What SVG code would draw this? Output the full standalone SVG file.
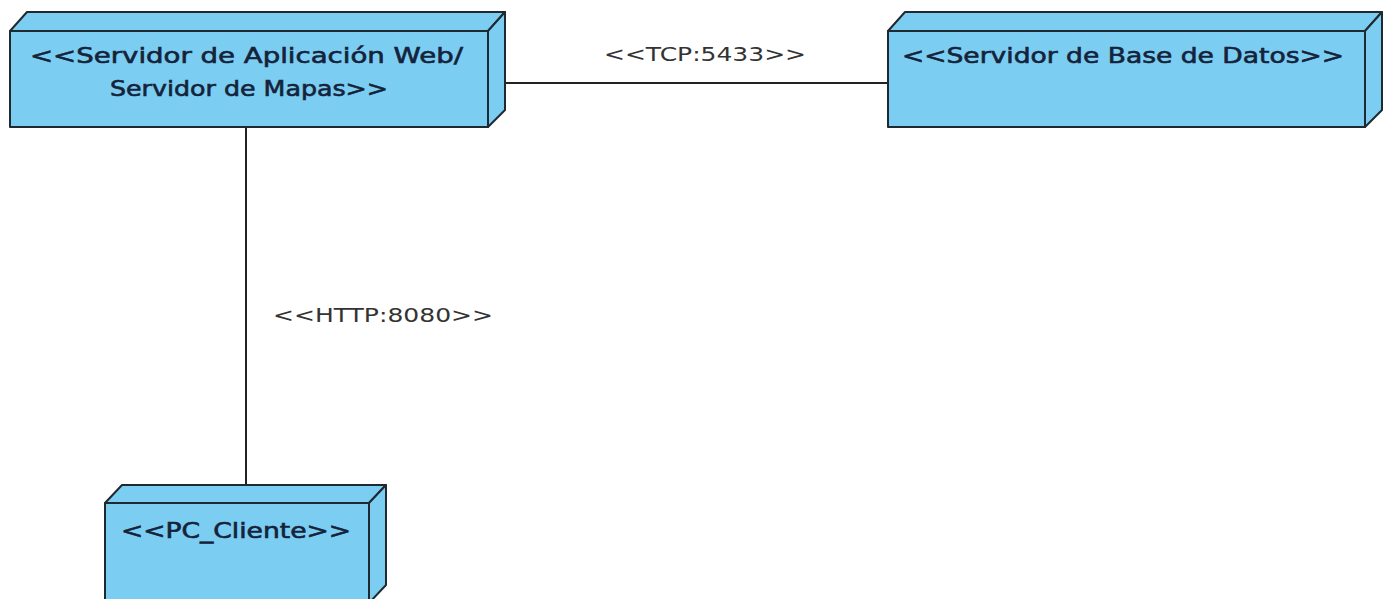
<svg xmlns="http://www.w3.org/2000/svg" width="1390" height="599" viewBox="0 0 1390 599">
<style>
.face{fill:#7ccdf2;stroke:#1e2a30;stroke-width:2;stroke-linejoin:round}
.nt{font-family:"DejaVu Sans",sans-serif;font-size:21px;fill:#14233a;stroke:#14233a;stroke-width:0.6}
.lt{font-family:"DejaVu Sans",sans-serif;font-size:20px;fill:#333}
.conn{stroke:#222;stroke-width:2;fill:none}
</style>
<rect width="1390" height="599" fill="#ffffff"/>
<g id="connectors">
<line class="conn" x1="506" y1="83" x2="888" y2="83"/>
<line class="conn" x1="246" y1="127" x2="246" y2="485"/>
<text class="lt" x="705" y="61" text-anchor="middle" textLength="202" lengthAdjust="spacingAndGlyphs">&lt;&lt;TCP:5433&gt;&gt;</text>
<text class="lt" x="383" y="322" text-anchor="middle" textLength="220" lengthAdjust="spacingAndGlyphs">&lt;&lt;HTTP:8080&gt;&gt;</text>
</g>
<g id="node-app">
<polygon class="face" points="10,31 27,12 505,12 488,31"/>
<polygon class="face" points="488,31 505,12 505,110 488,127"/>
<rect class="face" x="10" y="31" width="478" height="96"/>
<text class="nt" x="30" y="63" textLength="433" lengthAdjust="spacingAndGlyphs">&lt;&lt;Servidor de Aplicación Web/</text>
<text class="nt" x="249" y="96" text-anchor="middle" textLength="278" lengthAdjust="spacingAndGlyphs">Servidor de Mapas&gt;&gt;</text>
</g>
<g id="node-db">
<polygon class="face" points="888,31 905,12 1382,12 1365,31"/>
<polygon class="face" points="1365,31 1382,12 1382,110 1365,127"/>
<rect class="face" x="888" y="31" width="477" height="96"/>
<text class="nt" x="902" y="63" textLength="442" lengthAdjust="spacingAndGlyphs">&lt;&lt;Servidor de Base de Datos&gt;&gt;</text>
</g>
<g id="node-pc">
<polygon class="face" points="105,503 122,485 386,485 369,503"/>
<polygon class="face" points="369,503 386,485 386,585 369,603"/>
<rect class="face" x="105" y="503" width="264" height="110"/>
<text class="nt" x="121" y="538" textLength="230" lengthAdjust="spacingAndGlyphs">&lt;&lt;PC_Cliente&gt;&gt;</text>
</g>
</svg>
